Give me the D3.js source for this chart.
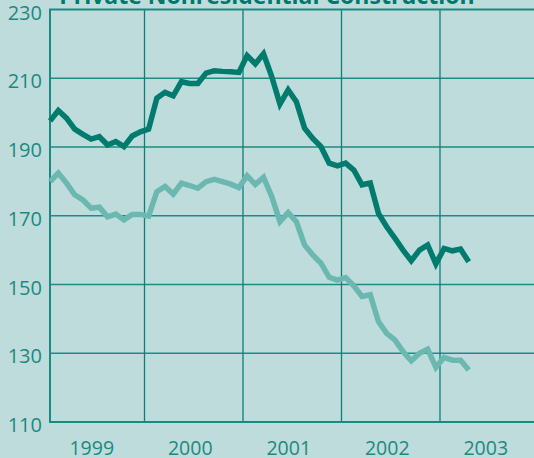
<!DOCTYPE html>
<html>
<head>
<meta charset="utf-8">
<script src="https://cdn.jsdelivr.net/npm/d3@7"></script>
<style>
  body { margin: 0; background: #bfdcdc; }
  svg { display: block; font-family: "Open Sans", sans-serif; }
</style>
</head>
<body>
<script>
// monthly index values, Jan 1999 .. Apr 2003
var startYear = 1999;
var seriesDark = [197.6, 200.6, 198.4, 195.2, 193.7, 192.3, 193.0, 190.6, 191.6, 190.1, 193.2, 194.4,
                  195.2, 204.2, 205.9, 204.9, 209.0, 208.5, 208.5, 211.5, 212.2, 212.0, 211.9, 211.7,
                  216.6, 214.2, 217.1, 210.5, 202.5, 206.6, 203.2, 195.5, 192.5, 190.1, 185.3, 184.5,
                  185.3, 183.3, 179.0, 179.5, 170.7, 166.8, 163.5, 160.0, 156.9, 160.0, 161.5, 156.0,
                  160.5, 159.8, 160.3, 156.6];
var seriesLight = [179.9, 182.4, 179.5, 176.1, 174.6, 172.2, 172.5, 169.7, 170.5, 168.8, 170.4, 170.4,
                   169.9, 177.0, 178.5, 176.3, 179.5, 178.8, 178.0, 179.9, 180.6, 179.9, 179.2, 178.2,
                   181.6, 179.1, 181.2, 175.6, 168.3, 170.9, 168.3, 161.5, 158.6, 156.2, 152.1, 151.3,
                   152.0, 149.6, 146.5, 147.0, 139.2, 135.8, 133.9, 130.5, 127.8, 130.0, 131.2, 125.9,
                   128.8, 128.0, 128.0, 125.1];
var years = [1999, 2000, 2001, 2002, 2003];
var yTicks = [110, 130, 150, 170, 190, 210, 230];
var title = "Private Nonresidential Construction";

var width = 534, height = 458;
var plot = {left: 50, top: 9.5, right: 534, bottom: 422};

var svg = d3.select("body")
            .append("svg")
            .attr("width", width)
            .attr("height", height);

svg.append("rect")
   .attr("width", width)
   .attr("height", height)
   .attr("fill", "#bfdcdc");

var xScale = d3.scaleLinear()
               .domain([1999, 2004])
               .range([46, 46 + 5 * 98.5]);

var yScale = d3.scaleLinear()
               .domain([110, 230])
               .range([plot.bottom, plot.top]);

// horizontal grid
svg.selectAll(".hgrid")
   .data(yTicks.slice(1, -1))
   .enter()
   .append("line")
   .attr("class", "hgrid")
   .attr("x1", plot.left)
   .attr("x2", plot.right)
   .attr("y1", function(d) {return yScale(d);})
   .attr("y2", function(d) {return yScale(d);})
   .attr("stroke", "#1e8c84")
   .attr("stroke-width", 1.3);

// vertical grid at year boundaries
svg.selectAll(".vgrid")
   .data(years.slice(1))
   .enter()
   .append("line")
   .attr("class", "vgrid")
   .attr("x1", function(d) {return xScale(d);})
   .attr("x2", function(d) {return xScale(d);})
   .attr("y1", plot.top)
   .attr("y2", plot.bottom)
   .attr("stroke", "#0c7f76")
   .attr("stroke-width", 1.3);

// frame: top, left, bottom
svg.append("path")
   .attr("d", "M" + plot.right + "," + plot.top + "H" + plot.left + "V" + plot.bottom + "H" + plot.right)
   .attr("fill", "none")
   .attr("stroke", "#1a8a80")
   .attr("stroke-width", 2);

var line = d3.line()
             .x(function(d, i) {return xScale(startYear + (i + 0.5) / 12);})
             .y(function(d) {return yScale(d);});

svg.append("path")
   .datum(seriesLight)
   .attr("d", line)
   .attr("fill", "none")
   .attr("stroke", "#6bb8b1")
   .attr("stroke-width", 5.5)
   .attr("stroke-linejoin", "miter");

svg.append("path")
   .datum(seriesDark)
   .attr("d", line)
   .attr("fill", "none")
   .attr("stroke", "#007b6e")
   .attr("stroke-width", 5.5)
   .attr("stroke-linejoin", "miter");

// y axis labels
var yAxis = svg.append("g")
               .attr("transform", "translate(" + plot.left + ",0)")
               .call(d3.axisLeft(yScale).tickValues(yTicks).tickSize(0).tickPadding(8));
yAxis.select(".domain").remove();
yAxis.selectAll("text")
     .attr("dy", "0.48em")
     .style("font-size", "20px")
     .style("font-family", "'Open Sans', sans-serif")
     .attr("fill", "#1a8a80");

// x axis year labels, centred on each year
var xAxis = svg.append("g")
               .attr("transform", "translate(0," + plot.bottom + ")")
               .call(d3.axisBottom(xScale)
                       .tickValues(years.map(function(d) {return d + 0.5;}))
                       .tickFormat(function(d) {return Math.floor(d);})
                       .tickSize(0).tickPadding(19));
xAxis.select(".domain").remove();
xAxis.selectAll("text")
     .attr("dx", "-4")
     .style("font-size", "19.5px")
     .style("font-family", "'Open Sans', sans-serif")
     .attr("fill", "#1a8a80");

// title, mostly clipped at the top edge
svg.append("text")
   .attr("x", width / 2)
   .attr("y", 3.5)
   .style("text-anchor", "middle")
   .style("font-size", "23px")
   .style("font-weight", "bold")
   .attr("fill", "#00786c")
   .text(title);
</script>
</body>
</html>
